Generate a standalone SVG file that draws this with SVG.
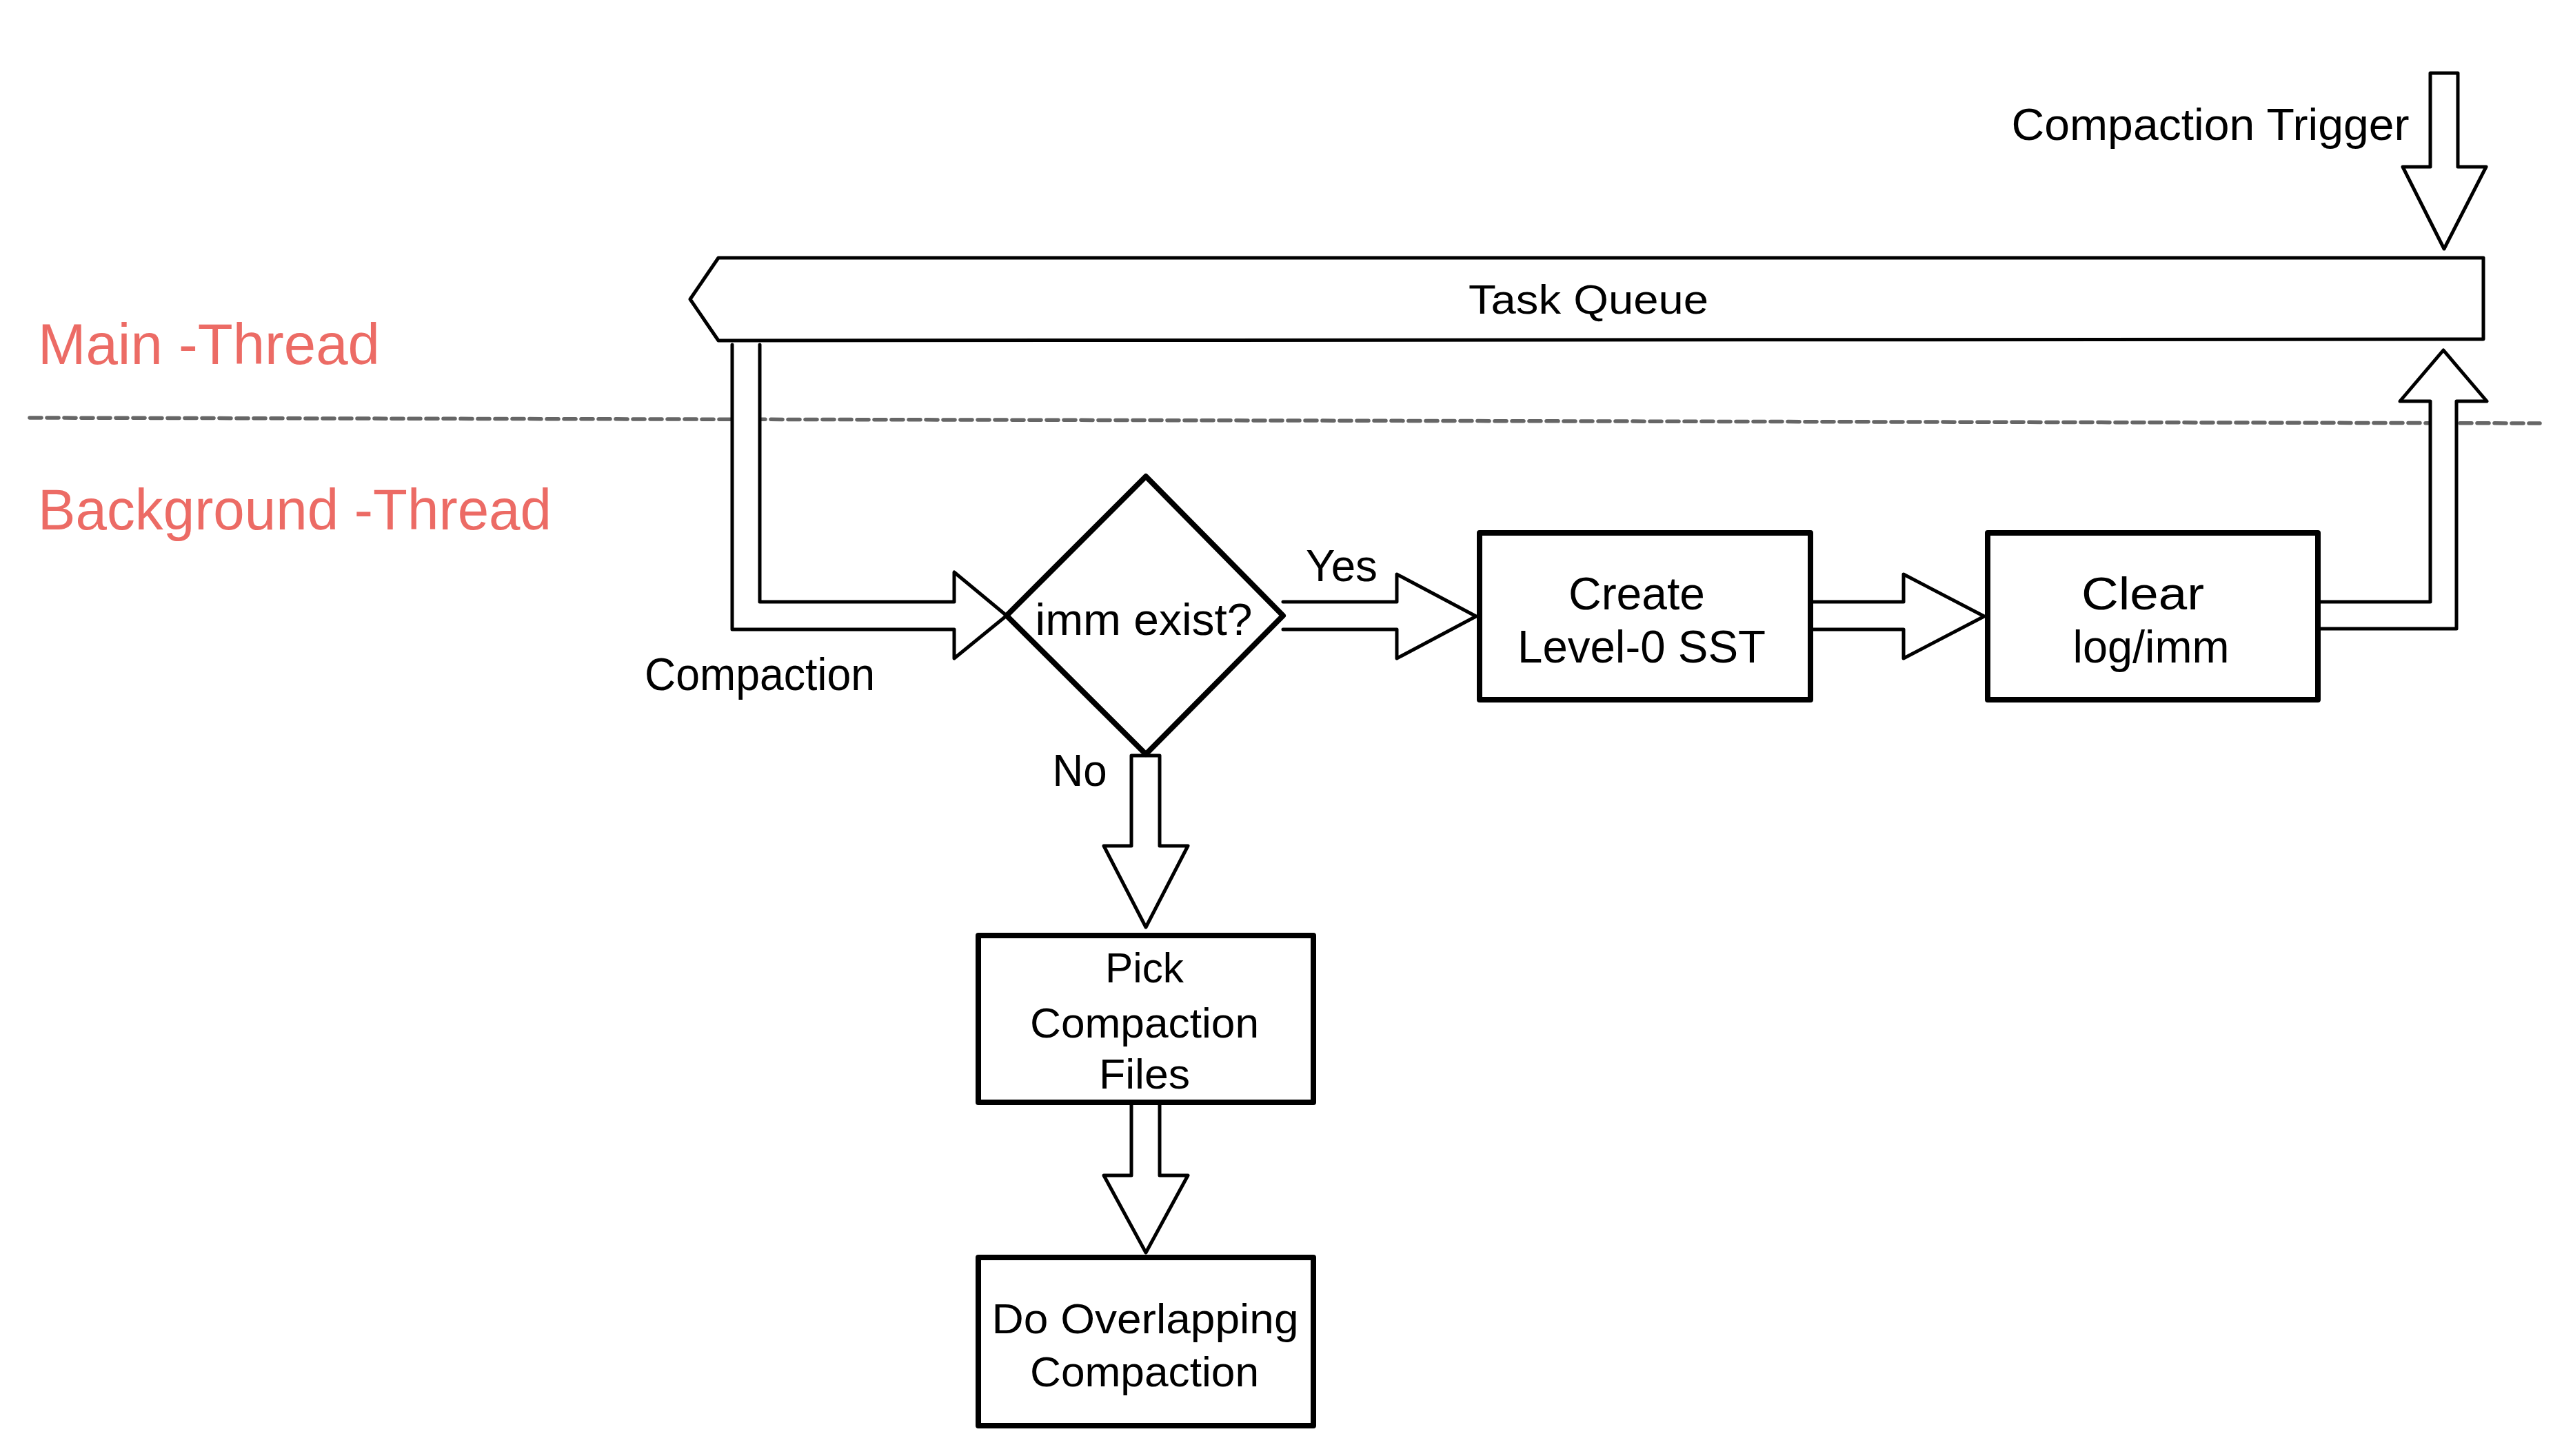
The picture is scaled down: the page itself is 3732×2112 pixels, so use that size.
<svg xmlns="http://www.w3.org/2000/svg" width="3732" height="2112" viewBox="0 0 3732 2112">
<style>
.bg{fill:#ffffff}
.box{fill:#ffffff;stroke:#000;stroke-width:8;stroke-linejoin:round}
.arr{fill:#ffffff;stroke:#000;stroke-width:5;stroke-linejoin:round;stroke-linecap:round}
.dash{fill:none;stroke:#666666;stroke-width:5.5;stroke-dasharray:17 8;stroke-linecap:round}
.t{font-family:"Liberation Sans","DejaVu Sans",sans-serif;fill:#000;text-anchor:middle}
.r{font-family:"Liberation Sans","DejaVu Sans",sans-serif;fill:#ec6b65}
</style>
<rect class="bg" x="0" y="0" width="3732" height="2112"/>

<line class="dash" x1="43" y1="606" x2="3684" y2="614"/>

<text class="r" x="55" y="528" font-size="84" textLength="496" lengthAdjust="spacingAndGlyphs">Main -Thread</text>
<text class="r" x="55" y="768" font-size="84" textLength="745" lengthAdjust="spacingAndGlyphs">Background -Thread</text>

<g id="connectors">
  <path class="arr" d="M1062,500 L1062,913 L1384,913 L1384,955 L1460,893 L1384,830 L1384,873 L1102,873 L1102,500"/>
  <path class="arr" d="M1861,873 L2026,873 L2026,833 L2141,894 L2026,955 L2026,913 L1861,913"/>
  <path class="arr" d="M2626,873 L2761,873 L2761,833 L2878,894 L2761,955 L2761,913 L2626,913"/>
  <path class="arr" d="M3362,873 L3525,873 L3525,582 L3481,582 L3544,508 L3607,582 L3563,582 L3563,912 L3362,912"/>
  <path class="arr" d="M3525,106 L3525,242 L3485,242 L3545,361 L3606,242 L3565,242 L3565,106 Z"/>
  <path class="arr" d="M1641,1096 L1641,1227 L1601,1227 L1662,1345 L1723,1227 L1682,1227 L1682,1096 Z"/>
  <path class="arr" d="M1641,1599 L1641,1705 L1601,1705 L1662,1817 L1723,1705 L1682,1705 L1682,1599"/>
  <text class="t" x="1102" y="1001" font-size="66" textLength="334" lengthAdjust="spacingAndGlyphs">Compaction</text>
  <text class="t" x="1946" y="843" font-size="64" textLength="104" lengthAdjust="spacingAndGlyphs">Yes</text>
  <text class="t" x="1566" y="1140" font-size="64" textLength="79" lengthAdjust="spacingAndGlyphs">No</text>
  <text class="t" x="3206" y="203" font-size="64" textLength="577" lengthAdjust="spacingAndGlyphs">Compaction Trigger</text>
</g>

<g id="task-queue">
  <path class="arr" d="M1001,434 L1042,374 L3602,374 L3602,492 L1042,494 Z"/>
  <text class="t" x="2304" y="455" font-size="60" textLength="348" lengthAdjust="spacingAndGlyphs">Task Queue</text>
</g>

<g id="imm-exist">
  <path class="box" d="M1662,691 L1861,893 L1662,1094 L1460,893 Z"/>
  <text class="t" x="1659" y="921" font-size="64" textLength="315" lengthAdjust="spacingAndGlyphs">imm exist?</text>
</g>

<g id="create-sst">
  <rect class="box" x="2146" y="773" width="480" height="242"/>
  <text class="t" x="2374" y="884" font-size="66" textLength="198" lengthAdjust="spacingAndGlyphs">Create</text>
  <text class="t" x="2381" y="961" font-size="66" textLength="360" lengthAdjust="spacingAndGlyphs">Level-0 SST</text>
</g>

<g id="clear-log">
  <rect class="box" x="2883" y="773" width="479" height="242"/>
  <text class="t" x="3108" y="884" font-size="66" textLength="178" lengthAdjust="spacingAndGlyphs">Clear</text>
  <text class="t" x="3120" y="961" font-size="66" textLength="227" lengthAdjust="spacingAndGlyphs">log/imm</text>
</g>

<g id="pick-files">
  <rect class="box" x="1419" y="1357" width="486" height="242"/>
  <text class="t" x="1660" y="1425" font-size="62" textLength="114" lengthAdjust="spacingAndGlyphs">Pick</text>
  <text class="t" x="1660" y="1505" font-size="62" textLength="332" lengthAdjust="spacingAndGlyphs">Compaction</text>
  <text class="t" x="1660" y="1579" font-size="62" textLength="132" lengthAdjust="spacingAndGlyphs">Files</text>
</g>

<g id="overlap-compaction">
  <rect class="box" x="1419" y="1824" width="486" height="244"/>
  <text class="t" x="1661" y="1934" font-size="62" textLength="445" lengthAdjust="spacingAndGlyphs">Do Overlapping</text>
  <text class="t" x="1660" y="2011" font-size="62" textLength="332" lengthAdjust="spacingAndGlyphs">Compaction</text>
</g>
</svg>
